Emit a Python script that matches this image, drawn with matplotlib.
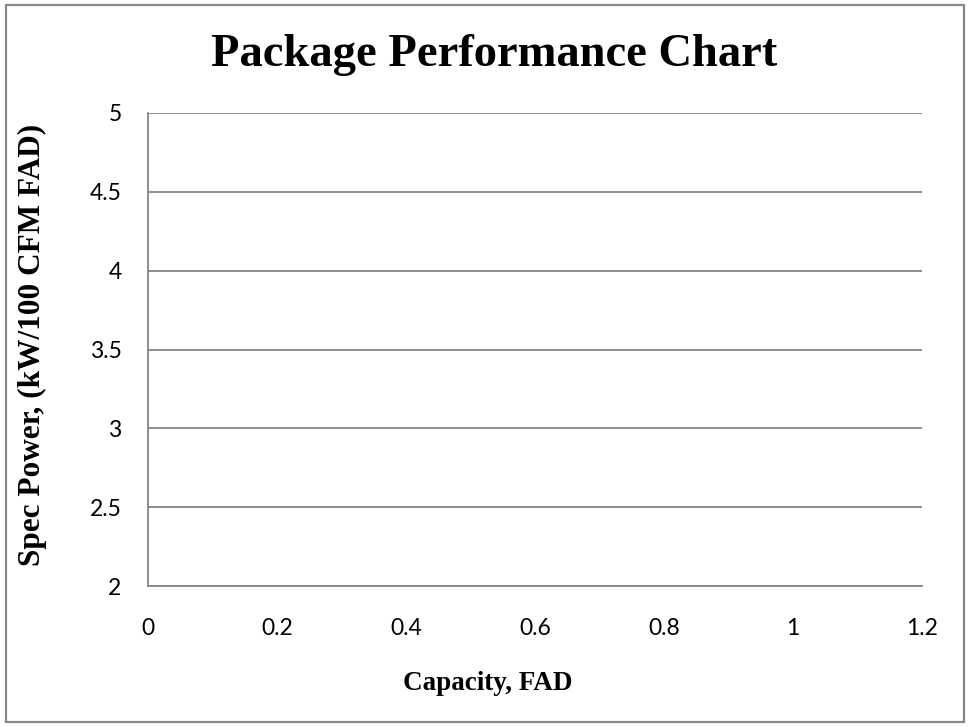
import matplotlib.pyplot as plt
from matplotlib.patches import Rectangle

# axis setup for the (empty) performance chart
x_ticks = [0, 0.2, 0.4, 0.6, 0.8, 1, 1.2]
x_tick_labels = ['0', '0.2', '0.4', '0.6', '0.8', '1', '1.2']
y_ticks = [2, 2.5, 3, 3.5, 4, 4.5, 5]
y_tick_labels = ['2', '2.5', '3', '3.5', '4', '4.5', '5']

fig = plt.figure(figsize=(9.69, 7.27), dpi=100)
ax = fig.add_axes([0.1527, 0.1939, 0.7988, 0.6507])

ax.set_xlim(0, 1.2)
ax.set_ylim(2, 5)
ax.set_xticks(x_ticks)
ax.set_xticklabels(x_tick_labels)
ax.set_yticks(y_ticks)
ax.set_yticklabels(y_tick_labels)

grid_color = '#868686'
ax.yaxis.grid(True, color=grid_color, linewidth=1.3)
ax.set_axisbelow(True)
for side in ['top', 'right']:
    ax.spines[side].set_visible(False)
for side in ['left', 'bottom']:
    ax.spines[side].set_color(grid_color)
    ax.spines[side].set_linewidth(1.3)

ax.tick_params(axis='both', length=0, labelsize=16.5)
ax.tick_params(axis='x', pad=23)
ax.tick_params(axis='y', pad=19)
for lbl in ax.get_xticklabels() + ax.get_yticklabels():
    lbl.set_fontfamily('Lato')

serif = 'Liberation Serif'
fig.text(0.510, 0.924, 'Package Performance Chart', ha='center', va='center',
         fontsize=33.5, fontweight='bold', family=serif)
fig.text(0.503, 0.060, 'Capacity, FAD', ha='center', va='center',
         fontsize=19.5, fontweight='bold', family=serif)
fig.text(0.033, 0.525, 'Spec Power, (kW/100 CFM FAD)', ha='center', va='center',
         rotation=90, fontsize=22.5, fontweight='bold', family=serif)

# chart-area frame
fig.patches.append(Rectangle((0.006, 0.007), 0.989, 0.986, transform=fig.transFigure,
                             fill=False, edgecolor='#888888', linewidth=1.6))

plt.savefig('out.png', dpi=100)
